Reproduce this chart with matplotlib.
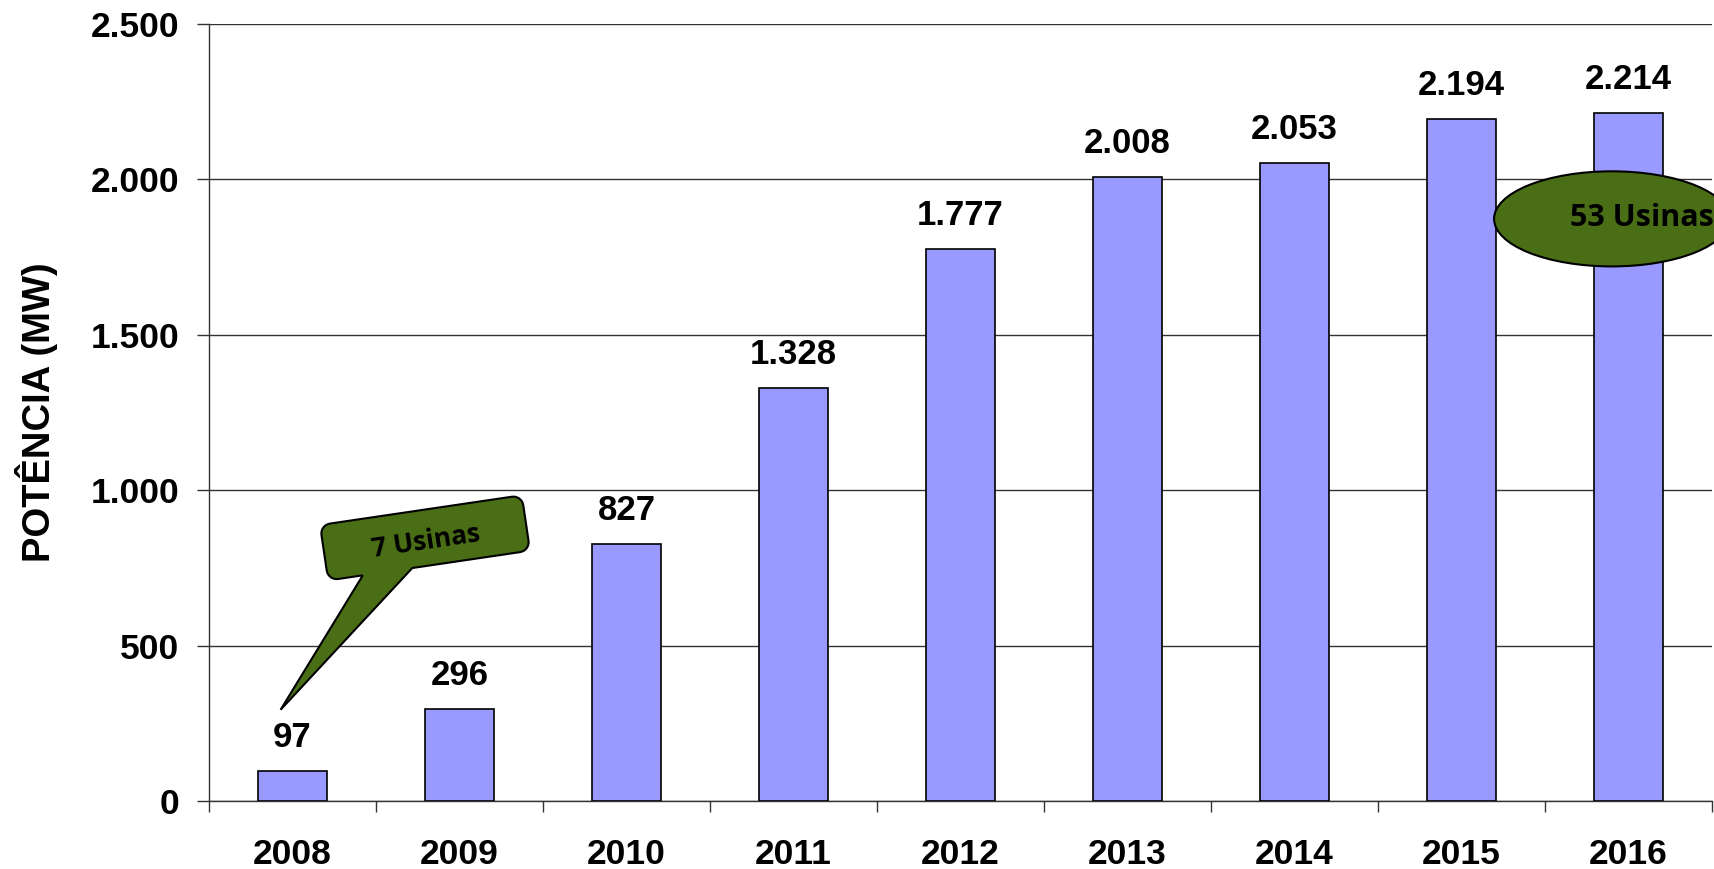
import numpy as np
import matplotlib
matplotlib.use("Agg")
import matplotlib.pyplot as plt
from matplotlib.patches import Ellipse, Polygon
from matplotlib.transforms import Affine2D, ScaledTranslation

# installed power per year (MW)
anos = ["2008", "2009", "2010", "2011", "2012", "2013", "2014", "2015", "2016"]
potencia = [97, 296, 827, 1328, 1777, 2008, 2053, 2194, 2214]
yticks = [0, 500, 1000, 1500, 2000, 2500]
callout_1 = "7 Usinas"
callout_2 = "53 Usinas"

plt.rcParams['font.family'] = ['Liberation Sans', 'DejaVu Sans']
green = '#4a6e16'

fig = plt.figure(figsize=(17.15, 8.69), dpi=100)
ax = fig.add_axes([209/1715, 1-801/869, 1503/1715, 777/869])

x = np.arange(len(anos))
ax.bar(x, potencia, width=0.41, color='#9999ff', edgecolor='black', linewidth=1.2, zorder=3)

def fmt(v):
    return f"{v:,}".replace(",", ".")

for xi, v in zip(x, potencia):
    ax.annotate(fmt(v), (xi, v), xytext=(0, 24), textcoords='offset points',
                ha='center', va='center', fontsize=25, fontweight='bold')

ax.set_xlim(-0.5, len(anos) - 0.5)
ax.set_ylim(0, 2500)
ax.set_yticks(yticks)
ax.set_yticklabels([fmt(v) for v in yticks], fontsize=25.5, fontweight='bold')
ax.set_xticks(x)
ax.set_xticklabels(anos, fontsize=25.5, fontweight='bold')
ax.set_xticks(np.arange(-0.5, len(anos)), minor=True)
ax.tick_params(axis='x', which='major', length=0, pad=27)
ax.tick_params(axis='x', which='minor', length=8, width=1, color='#333333')
ax.tick_params(axis='y', length=8.5, width=1, color='#333333', pad=13)
ax.grid(axis='y', color='#333333', linewidth=1, zorder=0)
ax.set_axisbelow(True)
for s in ['top', 'right']:
    ax.spines[s].set_visible(False)
for s in ['left', 'bottom']:
    ax.spines[s].set_color('#333333')
    ax.spines[s].set_linewidth(1)

fig.text(37/1715, 1-412/869, "POTÊNCIA (MW)", rotation=90, ha='center', va='center',
         fontsize=27.5, fontweight='bold')

# speech bubble anchored on the first bar (shape in pixels, rotated)
ang = 8.4
w, h, r = 204, 56, 10
pts = []
corners = [(w/2 - r, h/2 - r, 0), (-w/2 + r, h/2 - r, 90), (-w/2 + r, -h/2 + r, 180)]
for cx, cy, a0 in corners:
    for t in np.radians(np.linspace(a0, a0 + 90, 8)):
        pts.append((cx + r*np.cos(t), cy + r*np.sin(t)))
# pointer along bottom edge
pts += [(-67, -h/2), (-168, -149), (-17, -h/2)]
for t in np.radians(np.linspace(270, 360, 8)):
    pts.append((w/2 - r + r*np.cos(t), -h/2 + r + r*np.sin(t)))
pts = np.array(pts)
bx, by = 132.5, 233  # box centre offset from bar top, px
trans = Affine2D().rotate_deg(ang).translate(bx, by) + ScaledTranslation(x[0], potencia[0], ax.transData)
ax.add_patch(Polygon(pts, closed=True, facecolor=green, edgecolor='black', linewidth=1.5,
                     transform=trans, clip_on=False, zorder=5))
ax.text(0, -4, callout_1, transform=trans, rotation=ang, ha='center', va='center',
        fontsize=19, fontweight='bold', family=['Open Sans', 'DejaVu Sans'], zorder=6)

# ellipse near the last bar
ax.add_patch(Ellipse((7.90, 1873), 1.41, 306, facecolor=green, edgecolor='black',
                     linewidth=1.5, clip_on=False, zorder=5))
ax.text(8.08, 1876, callout_2, ha='center', va='center', fontsize=22, fontweight='bold',
        family=['Open Sans', 'DejaVu Sans'], zorder=6, clip_on=False)

fig.savefig("out.png", dpi=100)
